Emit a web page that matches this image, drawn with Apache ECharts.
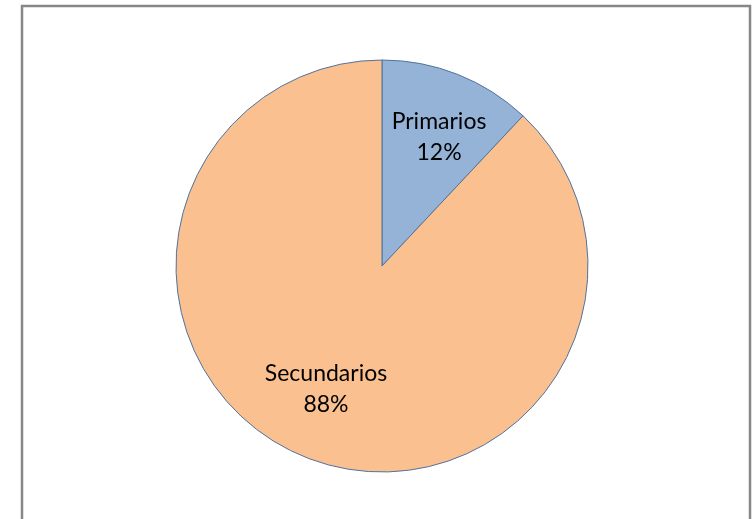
<!DOCTYPE html>
<html>
<head>
<meta charset="utf-8">
<script src="https://cdn.jsdelivr.net/npm/echarts@6/dist/echarts.min.js"></script>
<style>
  html, body { margin: 0; padding: 0; background: #ffffff; }
  #chart { width: 754px; height: 519px; }
</style>
</head>
<body>
<div id="chart"></div>
<script>
// Share of primary vs. secondary items
var categories = ['Primarios', 'Secundarios'];
var values = [12, 88];
var colors = ['#95b3d7', '#fac090'];
// label nudges so the text sits further out from the centre
var labelOffsets = [[18, -30], [-17, 25]];

var data = categories.map(function (name, i) {
  return {
    name: name,
    value: values[i],
    itemStyle: { color: colors[i] },
    label: { offset: labelOffsets[i] }
  };
});

var chart = echarts.init(document.getElementById('chart'), null, { renderer: 'canvas' });
chart.setOption({
  backgroundColor: '#ffffff',
  animation: false,
  graphic: [{
    type: 'rect',
    shape: { x: 22, y: 6, width: 728, height: 540 },
    style: { fill: 'none', stroke: '#878787', lineWidth: 2.5 },
    silent: true
  }],
  series: [{
    type: 'pie',
    center: [382, 266],
    radius: [0, 206],
    startAngle: 90,
    clockwise: true,
    data: data,
    itemStyle: { borderColor: '#51739f', borderWidth: 1 },
    label: {
      show: true,
      position: 'inside',
      formatter: function (p) { return p.name + '\n' + Math.round(p.percent) + '%'; },
      fontFamily: 'Lato',
      fontSize: 23,
      lineHeight: 31,
      color: '#000000'
    },
    labelLine: { show: false },
    emphasis: { disabled: true }
  }]
});
</script>
</body>
</html>
